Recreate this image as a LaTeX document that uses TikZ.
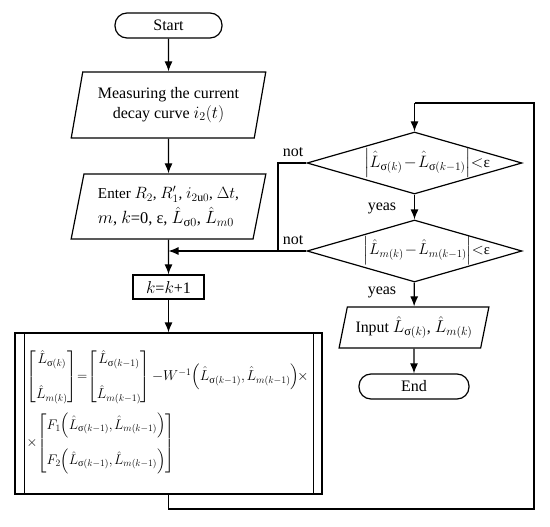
\documentclass[tikz,border=0pt]{standalone}
\usepackage{amsmath}
\usepackage{graphicx}
\usepackage{fontspec}
\setmainfont{Liberation Serif}
\DeclareMathSizes{16}{16}{12.5}{10}
\usetikzlibrary{shapes.geometric,arrows.meta,calc}
\newcommand{\Ls}[1]{\hat{L}_{\text{σ}(#1)}}
\newcommand{\Lm}[1]{\hat{L}_{m(#1)}}
\newcommand{\fitw}[2]{\resizebox{#1}{!}{#2}}
\tikzset{
  term/.style={draw, rounded corners=12pt, minimum height=25pt, inner sep=0pt},
  io/.style={draw, trapezium, trapezium left angle=75, trapezium right angle=105, trapezium stretches=true, align=center, inner sep=0pt},
  dec/.style={draw, diamond, aspect=3.47, minimum width=215pt, minimum height=62pt, inner sep=0pt},
  proc/.style={draw, inner sep=0pt},
  lbl/.style={inner sep=0pt},
  tightmath/.style={execute at begin node={\medmuskip=1.5mu\thickmuskip=2mu\thinmuskip=2mu\arraycolsep=1.5pt}}
}
\begin{document}
\begin{tikzpicture}[x=1pt,y=-1pt, font=\fontsize{16}{19}\selectfont, line width=1.2pt, >={Latex[length=10pt,width=8pt]}]
\useasboundingbox (0,0) rectangle (550,527);
\node[term, minimum width=107pt] (start) at (168.5,25.5) {Start};
\node[io, minimum width=195pt, minimum height=66pt] (meas) at (168.5,105) {Measuring the current\\[1pt]decay curve $i_2(t)$};
\node[io, minimum width=195pt, minimum height=65pt, align=left] (enter) at (168.5,206.5) {\fitw{141pt}{Enter $R_2$, $R_1'$, $i_{2\text{u}0}$, $\Delta t$,}\\[3pt] \fitw{136pt}{$m$, $k$=0, ε, $\hat{L}_{\text{σ}0}$, $\hat{L}_{m0}$}};
\node[proc, minimum width=71pt, minimum height=24pt] (kk) at (168.5,287) {$k$=$k$+1};
\node[proc, minimum width=307pt, minimum height=161pt] (calc) at (168.5,413.5) {};
\draw ([xshift=10pt]calc.north west) -- ([xshift=10pt]calc.south west);
\draw ([xshift=-9pt]calc.north east) -- ([xshift=-9pt]calc.south east);
\node[lbl, tightmath, anchor=west] (eq1) at (26,377) {\fitw{282pt}{$\begin{bmatrix}\Ls{k}\\[20pt] \Lm{k}\end{bmatrix}\!=\!\begin{bmatrix}\Ls{k-1}\\[20pt] \Lm{k-1}\end{bmatrix}{-}W^{-1}\Bigl(\Ls{k-1},\Lm{k-1}\Bigr)\!\times$}};
\node[lbl, tightmath, anchor=west] (eq2) at (26,443.5) {\fitw{148pt}{$\times\!\begin{bmatrix}F_1\Bigl(\Ls{k-1},\Lm{k-1}\Bigr)\\[18pt] F_2\Bigl(\Ls{k-1},\Lm{k-1}\Bigr)\end{bmatrix}$}};
\node[dec] (d1) at (414.5,163) {};
\node[lbl, tightmath] (t1) at (427,163) {\fitw{126pt}{$\left|\Ls{k}-\Ls{k-1}\right|\!<\!\text{ε}$}};
\node[dec] (d2) at (414.5,251) {};
\node[lbl, tightmath] (t2) at (427,251) {\fitw{126pt}{$\left|\Lm{k}-\Lm{k-1}\right|\!<\!\text{ε}$}};
\node[io, trapezium left angle=72, trapezium right angle=108, minimum width=150pt, minimum height=41pt] (inp) at (414,327.5) {\fitw{117pt}{Input $\Ls{k}$, $\Lm{k}$}};
\node[term, minimum width=110pt] (end) at (414,386.5) {End};
\node[lbl] (not1) at (293,152) {not};
\node[lbl] (not2) at (293,240) {not};
\node[lbl] (yeas1) at (382,208) {yeas};
\node[lbl] (yeas2) at (382,292) {yeas};
\coordinate (merge) at (168.5,251);
\coordinate (nj1) at (278,163);
\coordinate (nj2) at (278,251);
\coordinate (lp1) at (168.5,509);
\coordinate (lp2) at (534,509);
\coordinate (lp3) at (534,103);
\coordinate (lp4) at (414.5,103);
\draw[->] (start) -- (meas);
\draw[->] (meas) -- (enter);
\draw[->] (enter) -- (kk);
\draw[->] (kk) -- (calc);
\draw (calc.south) -- (lp1) -- (lp2) -- (lp3) -- (lp4);
\draw[->] (lp4) -- (d1.north);
\draw[->] (d1) -- (d2);
\draw[->] (d2) -- (inp);
\draw[->] (inp) -- (end);
\draw (d1.west) -- (nj1) -- (nj2);
\draw[->] (d2.west) -- (merge);
\end{tikzpicture}
\end{document}
